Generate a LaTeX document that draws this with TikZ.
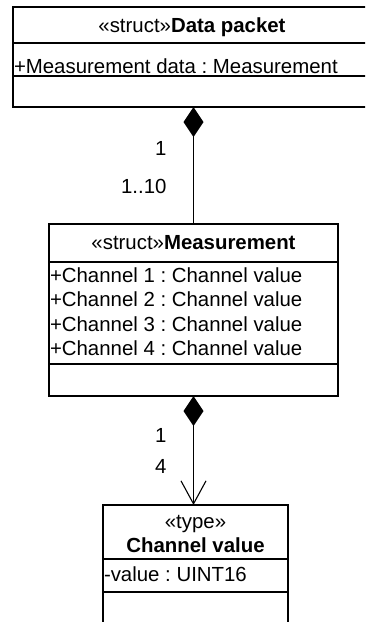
\documentclass[tikz,border=0pt]{standalone}
\usepackage{fontspec}
\setmainfont{Liberation Sans}
\frenchspacing
\usetikzlibrary{arrows.meta}

\begin{document}
\begin{tikzpicture}[x=1pt,y=-1pt,line width=1.1pt,
  classbox/.style={draw,rectangle,inner sep=0pt,outer sep=0pt,anchor=north west},
  txt/.style={inner sep=0pt,outer sep=0pt,anchor=base,font=\fontsize{20.4}{24.6}\selectfont},
  attr/.style={txt,anchor=base west},
  mult/.style={txt,anchor=base east},
  compose/.style={{Diamond[length=30pt,width=20pt,line width=0pt]}-},
  composenav/.style={{Diamond[length=30pt,width=20pt,line width=0pt]}-{Straight Barb[length=23pt,width=25pt]}}]
\useasboundingbox (0,0) rectangle (365,622);
\clip (0,0) rectangle (365,622);

% Data packet
\node[classbox,minimum width=358pt,minimum height=100pt] (dp) at (13,7) {};
\draw (13,43) -- (371,43);
\draw (13,76) -- (371,76);
\node[txt] (dpT) at (192,32) {«struct»\textbf{Data packet}};
\node[attr] (dpA) at (14,73) {+Measurement data : Measurement};

% Measurement
\node[classbox,minimum width=289pt,minimum height=172pt] (meas) at (49,224) {};
\draw (meas.west |- 0,262) -- (meas.east |- 0,262);
\draw (meas.west |- 0,364) -- (meas.east |- 0,364);
\node[txt] (measT) at (193.5,249) {«struct»\textbf{Measurement}};
\node[attr] (m1) at (50,282) {+Channel 1 : Channel value};
\node[attr] (m2) at (50,306.5) {+Channel 2 : Channel value};
\node[attr] (m3) at (50,331) {+Channel 3 : Channel value};
\node[attr] (m4) at (50,355.5) {+Channel 4 : Channel value};

% Channel value
\node[classbox,minimum width=185pt,minimum height=135pt] (cv) at (103,505) {};
\draw (cv.west |- 0,559) -- (cv.east |- 0,559);
\draw (cv.west |- 0,592) -- (cv.east |- 0,592);
\node[txt] (cvS) at (195.5,528) {«type»};
\node[txt] (cvT) at (195.5,552) {\textbf{Channel value}};
\node[attr] (cvA) at (104,581) {-value : UINT16};

% Associations
\draw[compose] (meas.north |- dp.south) -- (meas.north);
\draw[composenav] (meas.south) -- (meas.south |- cv.north);

% Multiplicities
\node[mult] (r1a) at (166.5,155) {1};
\node[mult] (r1b) at (166.5,193) {1..10};
\node[mult] (r2a) at (166.5,442) {1};
\node[mult] (r2b) at (166.5,473) {4};
\end{tikzpicture}
\end{document}
